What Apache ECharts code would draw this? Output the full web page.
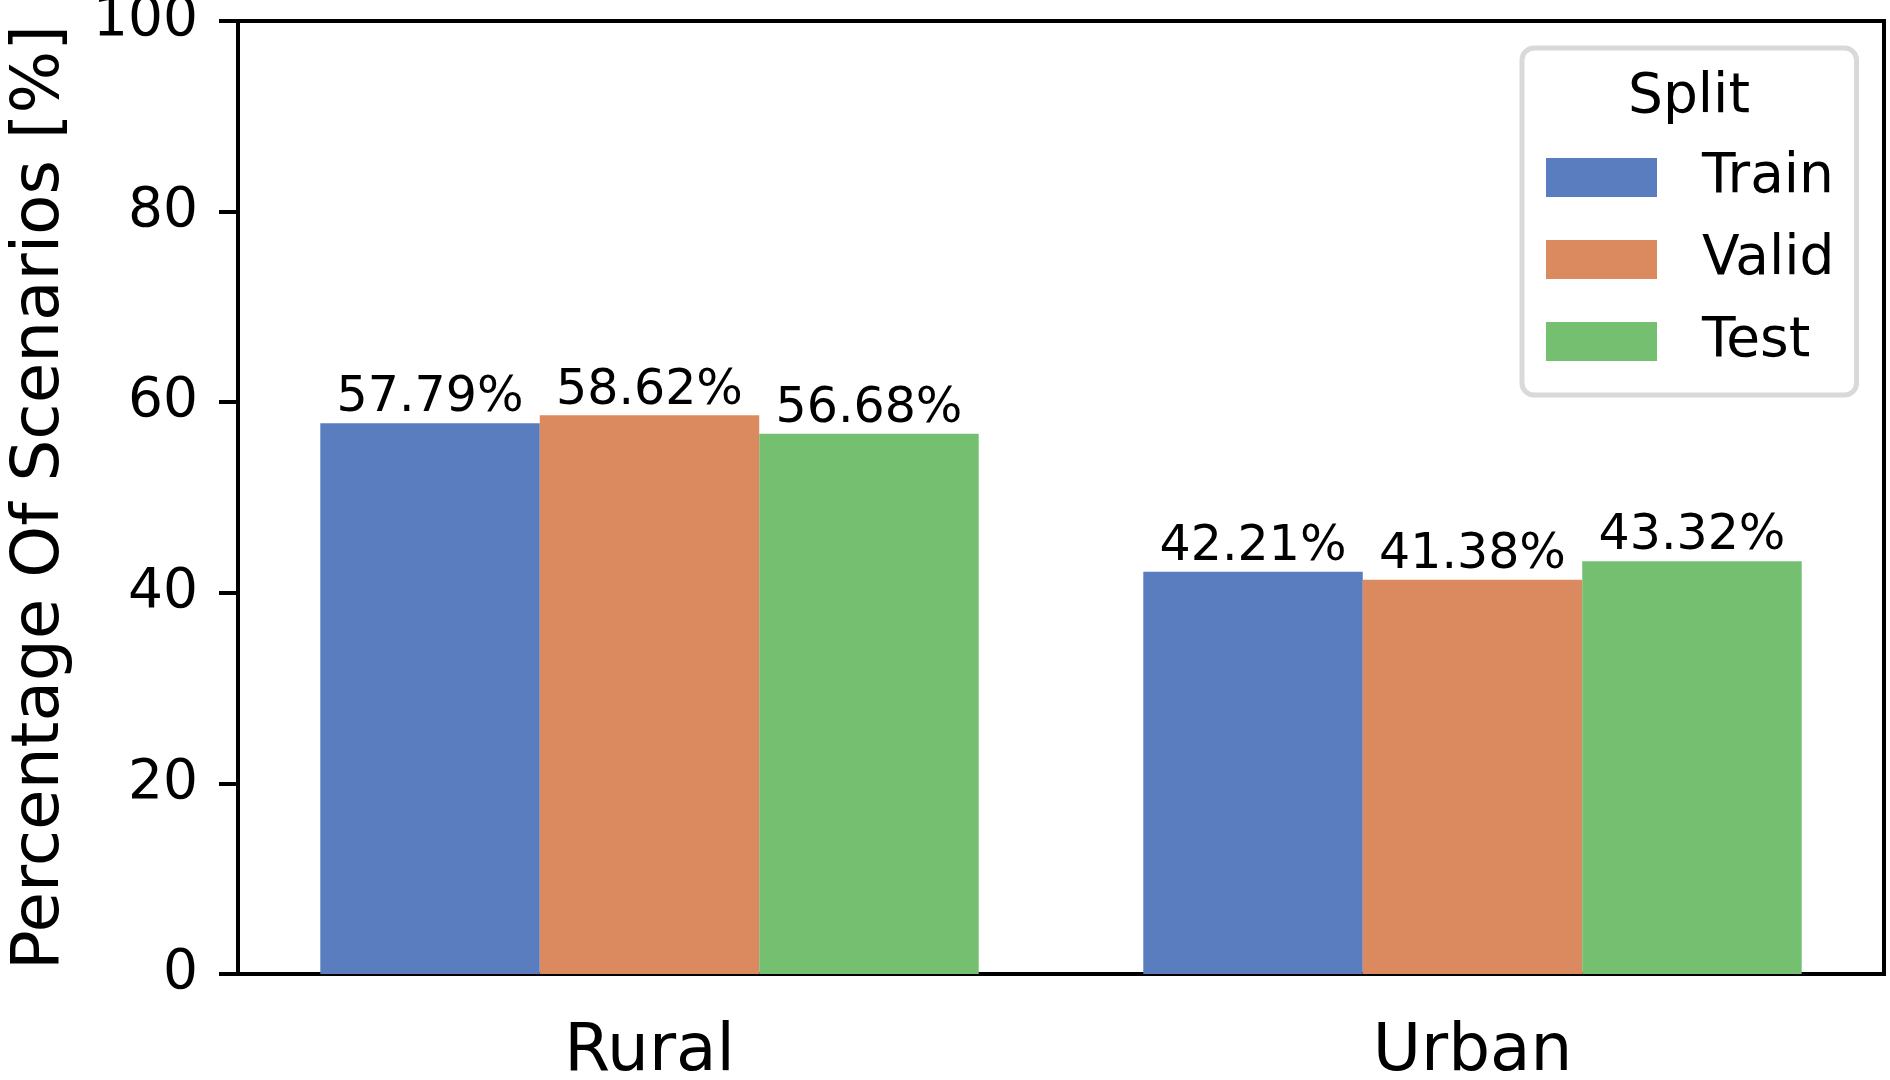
<!DOCTYPE html>
<html>
<head>
<meta charset="utf-8">
<style>html,body{margin:0;padding:0;background:#fff;}#c{width:1890px;height:1080px;}</style>
<script src="https://cdn.jsdelivr.net/npm/echarts@6/dist/echarts.min.js"></script>
</head>
<body>
<div id="c"></div>
<script>
const categories = ['Rural', 'Urban'];
const splitNames = ['Train', 'Valid', 'Test'];
const trainValues = [57.79, 42.21];
const validValues = [58.62, 41.38];
const testValues = [56.68, 43.32];
const yTicks = [0, 20, 40, 60, 80, 100];
const colors = ['#597DBF', '#DA8A5E', '#75BF71'];
const FONT = '"DejaVu Sans", sans-serif';

const chart = echarts.init(document.getElementById('c'), null, {renderer: 'canvas'});
const seriesData = [trainValues, validValues, testValues];
const option = {
  backgroundColor: '#ffffff',
  animation: false,
  textStyle: {fontFamily: FONT, color: '#000'},
  grid: {left: 238, right: 6, top: 21, bottom: 106, show: true, borderColor: '#000', borderWidth: 4,
    backgroundColor: 'transparent', containLabel: false, outerBoundsMode: 'none'},
  legend: {
    orient: 'vertical',
    left: 1522, top: 48,
    padding: [102, 22, 26, 24],
    itemWidth: 111, itemHeight: 39, itemGap: 27,
    icon: 'rect',
    borderColor: '#d9d9d9', borderWidth: 5, borderRadius: 12,
    backgroundColor: 'rgba(255,255,255,0.8)',
    textStyle: {fontFamily: FONT, fontSize: 55, color: '#000', padding: [0, 0, 0, 40]},
    data: splitNames
  },
  graphic: [{
    type: 'text', left: 1690 - 62, top: 70, z: 100, zlevel: 1,
    style: {text: 'Split', fontFamily: FONT, fontSize: 55, fill: '#000'}
  }],
  xAxis: {
    type: 'category', data: categories,
    axisLine: {lineStyle: {color: '#000', width: 4}},
    axisTick: {alignWithLabel: true, length: 19, lineStyle: {color: '#000', width: 4}},
    axisLabel: {fontFamily: FONT, fontSize: 66, color: '#000', margin: 46},
    splitLine: {show: false}
  },
  yAxis: {
    type: 'value', min: 0, max: 100, interval: 20,
    name: 'Percentage Of Scenarios [%]', nameLocation: 'middle', nameGap: 164,
    nameTextStyle: {fontFamily: FONT, fontSize: 66, color: '#000'},
    axisLine: {show: true, lineStyle: {color: '#000', width: 4}},
    axisTick: {show: true, length: 19, lineStyle: {color: '#000', width: 4}},
    axisLabel: {fontFamily: FONT, fontSize: 55, color: '#000', margin: 40,
      formatter: v => yTicks.includes(v) ? String(v) : ''},
    splitLine: {show: false}
  },
  series: splitNames.map((n, i) => ({
    name: n, type: 'bar', data: seriesData[i],
    barGap: '0%', barCategoryGap: '20%',
    itemStyle: {color: colors[i]},
    label: {show: true, position: 'top', distance: 0, fontFamily: FONT, fontSize: 49, color: '#000',
      formatter: p => p.value.toFixed(2) + '%'}
  }))
};
chart.setOption(option);
</script>
</body>
</html>
